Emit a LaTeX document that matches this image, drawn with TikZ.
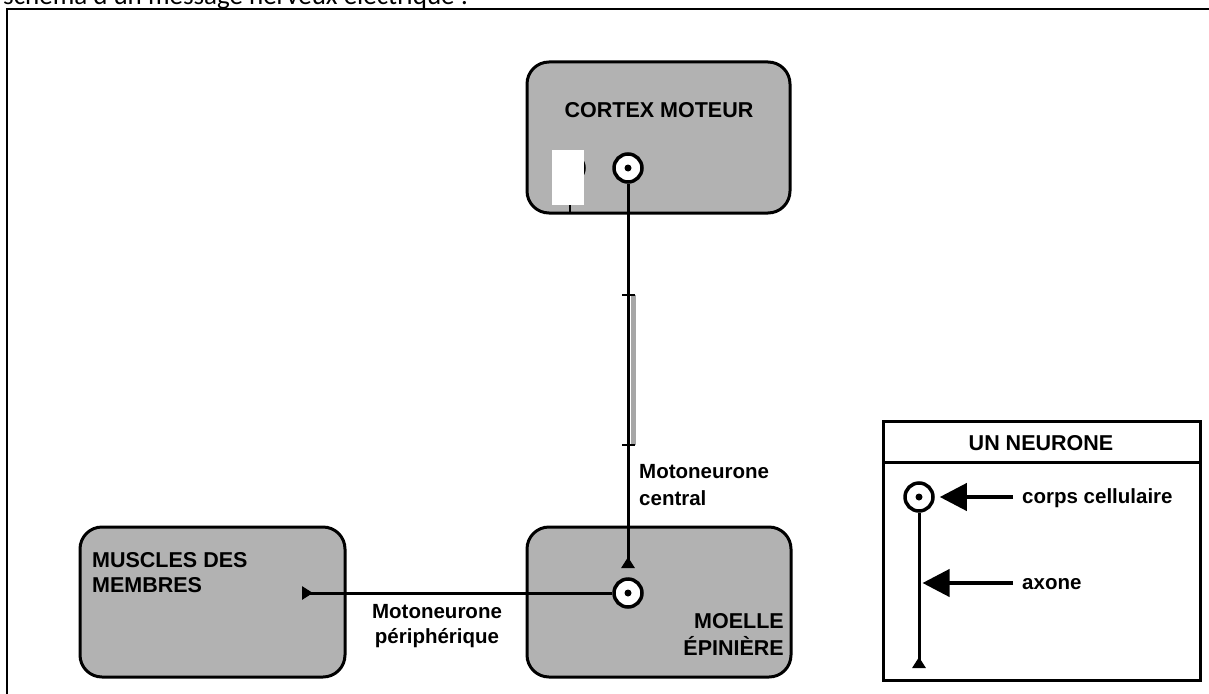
\documentclass[tikz,border=0pt]{standalone}
\usepackage{fontspec}
\setmainfont{Liberation Sans}
\newfontfamily\topfont{Carlito}
\usetikzlibrary{arrows.meta}
\definecolor{boxgray}{RGB}{178,178,178}
\begin{document}
\begin{tikzpicture}[x=1pt,y=-1pt,
  region/.style={draw=black, line width=3pt, fill=boxgray, rounded corners=22pt, inner sep=0pt},
  axon/.style={line width=3pt},
  capt/.style={font=\fontsize{21.5}{25}\selectfont\bfseries, inner sep=0pt},
  lab/.style={font=\fontsize{20.5}{25}\selectfont\bfseries, inner sep=0pt},
  soma/.style={circle, draw=black, line width=3.5pt, fill=white, minimum size=28pt, inner sep=0pt},
  term/.style={-{Triangle[reversed,length=11pt,width=13pt]}},
  legarrow/.style={line width=4pt, -{Triangle[length=27pt,width=27pt]}}]
\useasboundingbox (0,0) rectangle (1209,693);
\clip (0,0) rectangle (1209,693);
% heading (cut at the top)
\node[anchor=base west, inner sep=0pt, font=\topfont\fontsize{27}{30}\selectfont] (title) at (3,5) {schéma d'un message nerveux électrique :};
% outer frame
\draw[line width=2pt] (7,700) -- (7,9) -- (1215,9);
% regions
\node[region, minimum width=263pt, minimum height=151pt] (cortex) at (658.5,137.5) {};
\node[region, minimum width=264pt, minimum height=150pt] (moelle) at (659,602) {};
\node[region, minimum width=265pt, minimum height=150pt] (muscles) at (212.5,602) {};
% labels in regions
\node[capt, anchor=base] (tcortex) at (659,117) {CORTEX MOTEUR};
\node[capt, anchor=base west] (tmus1) at (92,567) {MUSCLES DES};
\node[capt, anchor=base west] (tmus2) at (92,592) {MEMBRES};
\node[capt, anchor=base east] (tmo1) at (784,628) {MOELLE};
\node[capt, anchor=base east] (tmo2) at (784,655) {ÉPINIÈRE};
% hidden neuron behind white patch
\node[soma] (somaH) at (570,168) {};
\coordinate (hEnd) at (570,214);
\draw[line width=2.5pt] (somaH.south) -- (hEnd);
\fill[white] (552,150) rectangle (584,205);
% central motoneuron
\node[soma] (somaC) at (628,168) {};
\fill (somaC) circle (3.5pt);
\coordinate (termC) at (628,568);
\fill[gray!70] (631,295) rectangle (636,445);
\draw[axon, term] (somaC.south) -- (termC);
\coordinate (tick1) at (628,295);
\coordinate (tick2) at (628,445);
\draw[line width=2pt] ([xshift=-6pt]tick1) -- ([xshift=7pt]tick1);
\draw[line width=2pt] ([xshift=-6pt]tick2) -- ([xshift=7pt]tick2);
\node[lab, anchor=base west] (lc1) at (639,478) {Motoneurone};
\node[lab, anchor=base west] (lc2) at (639,505) {central};
% peripheral motoneuron
\node[soma] (somaM) at (628,593) {};
\fill (somaM) circle (3.5pt);
\coordinate (termM) at (302,593);
\draw[axon, term] (somaM.west) -- (termM);
\node[lab, anchor=base] (lp1) at (437,618) {Motoneurone};
\node[lab, anchor=base] (lp2) at (437,643) {périphérique};
% legend
\node[draw=black, line width=3pt, minimum width=317pt, minimum height=259pt, inner sep=0pt] (legend) at (1041.5,550.5) {};
\coordinate (hdL) at (883,462);
\coordinate (hdR) at (1200,462);
\draw[line width=3pt] (hdL) -- (hdR);
\node[capt, anchor=base] (tleg) at (1041,450) {UN NEURONE};
\node[soma] (somaL) at (919,497) {};
\fill (somaL) circle (3.5pt);
\coordinate (termL) at (919,668);
\draw[axon, term] (somaL.south) -- (termL);
\node[lab, anchor=base west, inner xsep=0pt] (tcc) at (1022,503) {corps cellulaire};
\node[lab, anchor=base west, inner xsep=0pt] (tax) at (1022,589) {axone};
\coordinate (ccStart) at (1013,497);
\coordinate (axStart) at (1013,583);
\coordinate (axPt) at (919,583);
\draw[legarrow, shorten >=5pt] (ccStart) -- (somaL.east);
\draw[legarrow, shorten >=3.5pt] (axStart) -- (axPt);
\end{tikzpicture}
\end{document}
